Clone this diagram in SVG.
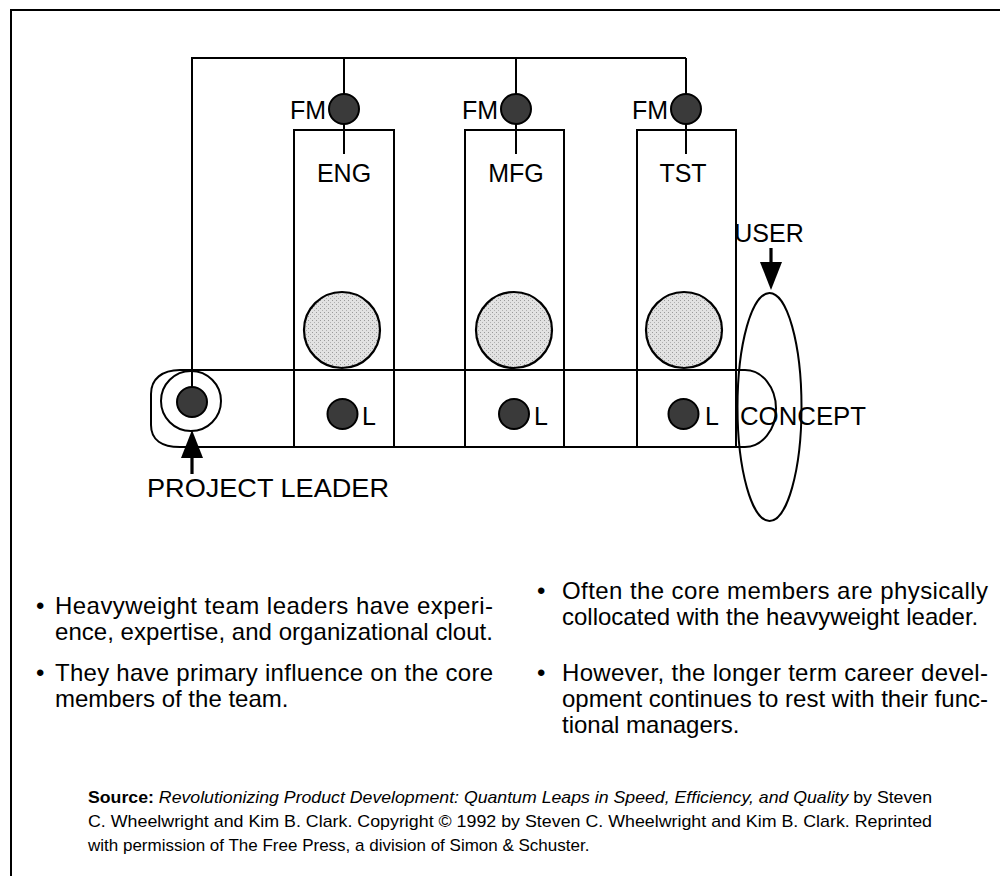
<svg xmlns="http://www.w3.org/2000/svg" width="1000" height="876" viewBox="0 0 1000 876">
<style>
.ln{fill:none;stroke:#000;stroke-width:2}
.box{fill:none;stroke:#000;stroke-width:2}
.dark{fill:#3a3a3a;stroke:#000;stroke-width:2}
.core{fill:url(#stip);stroke:#000;stroke-width:2.2}
.lbl{font-family:"Liberation Sans",Arial,sans-serif;font-size:25px;fill:#000}
.body{font-family:"Liberation Sans",Arial,sans-serif;font-size:24px;fill:#000}
.src{font-family:"Liberation Sans",Arial,sans-serif;font-size:17px;fill:#000}
.arr{fill:none;stroke:#000;stroke-width:3.2}
</style>
<defs>
<pattern id="stip" width="4" height="4" patternUnits="userSpaceOnUse">
<rect width="4" height="4" fill="#e2e2e2"/>
<rect x="0" y="0" width="1" height="1" fill="#9a9a9a"/>
<rect x="2" y="2" width="1" height="1" fill="#b0b0b0"/>
</pattern>
<marker id="ah" viewBox="0 0 28 22" refX="18" refY="11" markerWidth="28" markerHeight="22" markerUnits="userSpaceOnUse" orient="auto">
<path d="M0,0 L28,11 L0,22 z" fill="#000"/>
</marker>
</defs>
<rect width="1000" height="876" fill="#fff"/>
<g id="frame"><path class="ln" d="M11,876 V10 H1000"/></g>

<g id="connectors">
<path class="ln" d="M192,387 V58 H686"/>
<line class="ln" x1="344" y1="58" x2="344" y2="154"/>
<line class="ln" x1="516" y1="58" x2="516" y2="154"/>
<line class="ln" x1="686" y1="58" x2="686" y2="154"/>
<line class="arr" x1="771" y1="248" x2="771" y2="280" marker-end="url(#ah)"/>
<line class="arr" x1="192" y1="474" x2="192" y2="440" marker-end="url(#ah)"/>
</g>

<g id="concept-band">
<path class="ln" d="M180,370 H745 A31,38.5 0 0 1 745,447 H180 C162,447 151,440 151,425 V394 C151,379 162,370 180,370 Z"/>
</g>

<g id="eng">
<rect class="box" x="294" y="130" width="100" height="317"/>
<circle class="dark" cx="344" cy="109" r="15"/>
<text class="lbl" x="326" y="119" text-anchor="end">FM</text>
<text class="lbl" x="344" y="182" text-anchor="middle">ENG</text>
<circle class="core" cx="342" cy="330" r="38"/>
<circle class="dark" cx="342.5" cy="414" r="15"/>
<text class="lbl" x="362" y="425">L</text>
</g>

<g id="mfg">
<rect class="box" x="465" y="130" width="99" height="317"/>
<circle class="dark" cx="516" cy="109" r="15"/>
<text class="lbl" x="498" y="119" text-anchor="end">FM</text>
<text class="lbl" x="516" y="182" text-anchor="middle">MFG</text>
<circle class="core" cx="514" cy="330" r="38"/>
<circle class="dark" cx="514" cy="414" r="15"/>
<text class="lbl" x="534" y="425">L</text>
</g>

<g id="tst">
<rect class="box" x="637" y="130" width="99" height="317"/>
<circle class="dark" cx="686" cy="109" r="15"/>
<text class="lbl" x="668" y="119" text-anchor="end">FM</text>
<text class="lbl" x="683" y="182" text-anchor="middle">TST</text>
<circle class="core" cx="684" cy="330" r="38"/>
<circle class="dark" cx="683.5" cy="414" r="15"/>
<text class="lbl" x="705" y="425">L</text>
</g>

<g id="project-leader">
<circle class="ln" cx="191" cy="401" r="30"/>
<circle class="dark" cx="192" cy="402" r="15"/>
<text class="lbl" x="147" y="497" textLength="242" lengthAdjust="spacingAndGlyphs">PROJECT LEADER</text>
</g>

<g id="user">
<ellipse class="ln" cx="769.5" cy="407" rx="32" ry="114"/>
<text class="lbl" x="769" y="242" text-anchor="middle">USER</text>
</g>

<g id="concept-label">
<text class="lbl" x="740" y="425" textLength="126" lengthAdjust="spacingAndGlyphs">CONCEPT</text>
</g>

<g id="bullets-left">
<text class="body" x="36" y="614">•</text>
<text class="body" x="55" y="614" textLength="438" lengthAdjust="spacing">Heavyweight team leaders have experi-</text>
<text class="body" x="55" y="640" textLength="438" lengthAdjust="spacing">ence, expertise, and organizational clout.</text>
<text class="body" x="36" y="681">•</text>
<text class="body" x="55" y="681" textLength="438" lengthAdjust="spacing">They have primary influence on the core</text>
<text class="body" x="55" y="707">members of the team.</text>
</g>

<g id="bullets-right">
<text class="body" x="537" y="599">•</text>
<text class="body" x="562" y="599" textLength="426" lengthAdjust="spacing">Often the core members are physically</text>
<text class="body" x="562" y="625">collocated with the heavyweight leader.</text>
<text class="body" x="537" y="681">•</text>
<text class="body" x="562" y="681" textLength="426" lengthAdjust="spacing">However, the longer term career devel-</text>
<text class="body" x="562" y="707" textLength="426" lengthAdjust="spacing">opment continues to rest with their func-</text>
<text class="body" x="562" y="733">tional managers.</text>
</g>

<g id="source">
<text class="src" x="88" y="803" textLength="844" lengthAdjust="spacingAndGlyphs"><tspan font-weight="bold">Source:</tspan> <tspan font-style="italic">Revolutionizing Product Development: Quantum Leaps in Speed, Efficiency, and Quality</tspan> by Steven</text>
<text class="src" x="88" y="827" textLength="844" lengthAdjust="spacingAndGlyphs">C. Wheelwright and Kim B. Clark. Copyright  © 1992 by Steven C. Wheelwright and Kim B. Clark. Reprinted</text>
<text class="src" x="88" y="851">with permission of The Free Press, a division of Simon &amp; Schuster.</text>
</g>
</svg>
